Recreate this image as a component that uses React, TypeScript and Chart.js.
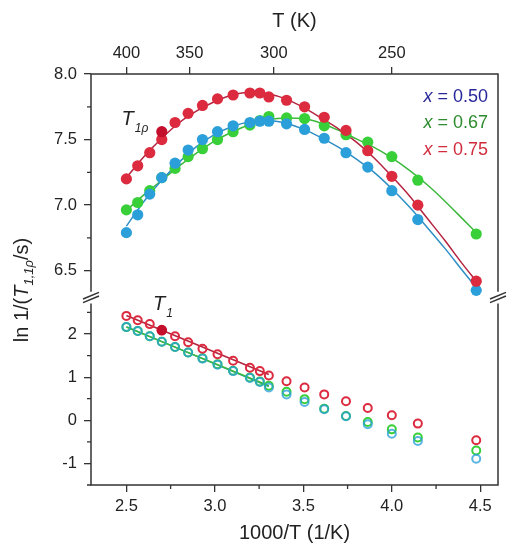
import React, { useEffect, useRef } from "react";
import { Chart, registerables } from "chart.js";

Chart.register(...registerables);

// ---------- data ----------
const X_VALUES = [2.5, 2.564, 2.632, 2.7, 2.775, 2.849, 2.93, 3.015, 3.103, 3.198, 3.254, 3.305, 3.405, 3.507, 3.618, 3.741, 3.864, 4.0, 4.147, 4.477];

const RHO_050 = [6.79, 6.926, 7.084, 7.21, 7.32, 7.42, 7.5, 7.56, 7.605, 7.63, 7.64, 7.64, 7.62, 7.577, 7.51, 7.4, 7.29, 7.11, 6.89, 6.35];
const RHO_067 = [6.964, 7.02, 7.11, 7.21, 7.28, 7.37, 7.43, 7.5, 7.56, 7.61, 7.645, 7.676, 7.665, 7.66, 7.605, 7.537, 7.48, 7.37, 7.19, 6.78];
const RHO_075 = [7.2, 7.3, 7.4, 7.5, 7.63, 7.7, 7.76, 7.81, 7.84, 7.855, 7.855, 7.825, 7.8, 7.75, 7.67, 7.57, 7.415, 7.22, 7.0, 6.42];
const RHO_075_EXTRA_X = [2.7];
const RHO_075_EXTRA = [7.56];

const T1_050 = [2.165, 2.07, 1.95, 1.82, 1.7, 1.57, 1.43, 1.29, 1.14, 0.98, 0.89, 0.76, 0.6, 0.425, 0.255, 0.093, -0.093, -0.31, -0.48, -0.89];
const T1_067 = [2.16, 2.07, 1.95, 1.82, 1.7, 1.57, 1.44, 1.3, 1.15, 0.99, 0.9, 0.8, 0.66, 0.49, 0.27, 0.1, -0.04, -0.21, -0.4, -0.7];
const T1_075 = [2.42, 2.32, 2.23, 2.09, 1.95, 1.81, 1.66, 1.53, 1.38, 1.22, 1.14, 1.04, 0.905, 0.76, 0.6, 0.44, 0.285, 0.116, -0.077, -0.464];
const T1_075_EXTRA_X = [2.7];
const T1_075_EXTRA = [2.09];

const FIT_RHO_X = [2.5, 2.6, 2.7, 2.8, 2.9, 3.0, 3.1, 3.2, 3.3, 3.4, 3.5, 3.6, 3.7, 3.8, 3.9, 4.0, 4.1, 4.2, 4.3, 4.4, 4.477];
const FIT_RHO_050 = [6.84, 7.03, 7.19, 7.33, 7.45, 7.54, 7.6, 7.635, 7.645, 7.625, 7.58, 7.515, 7.44, 7.35, 7.25, 7.125, 6.985, 6.83, 6.67, 6.5, 6.37];
const FIT_RHO_067 = [6.96, 7.08, 7.19, 7.3, 7.4, 7.49, 7.56, 7.615, 7.65, 7.665, 7.66, 7.625, 7.57, 7.505, 7.44, 7.36, 7.265, 7.155, 7.03, 6.895, 6.79];
const FIT_RHO_075 = [7.21, 7.37, 7.51, 7.63, 7.72, 7.79, 7.84, 7.86, 7.85, 7.81, 7.745, 7.665, 7.58, 7.48, 7.36, 7.22, 7.07, 6.9, 6.73, 6.55, 6.42];

const FIT_T1_X = [2.5, 3.305];
const FIT_T1_050 = [2.17, 0.78];
const FIT_T1_067 = [2.16, 0.8];
const FIT_T1_075 = [2.43, 1.06];

const X_TICKS = [2.5, 3.0, 3.5, 4.0, 4.5];
const X_MINOR = [2.75, 3.25, 3.75, 4.25];
const TOP_TICKS_K = [400, 350, 300, 250];
const Y_TOP_TICKS = [6.5, 7.0, 7.5, 8.0];
const Y_TOP_MINOR = [6.75, 7.25, 7.75];
const Y_BOT_TICKS = [-1, 0, 1, 2];
const Y_BOT_MINOR = [-1.5, -0.5, 0.5, 1.5, 2.5];
const LEGEND_VALUES = ["0.50", "0.67", "0.75"];

// ---------- styles ----------
const FONT = '"Liberation Sans", Arial, sans-serif';
const AXIS = "#333333";
const TEXT = "#222222";
const RED = "#dc2a3f";
const RED_DARK = "#c40f2c";
const BLUE = "#2b9fd9";
const BLUE_T = "rgba(41,159,217,0.78)";
const GREEN = "#38cf38";
const RED_LINE = "#b5233f";
const BLUE_LINE = "#2d8fc5";
const GREEN_LINE = "#3cb83c";
const TEAL_LINE = "#28a6a6";
const LEGEND_COLORS = ["#27279a", "#2e8b2e", "#d02c3c"];

const pts = (xs: number[], ys: number[]) => xs.map((x, i) => ({ x, y: ys[i] }));

const framePlugin = {
  id: "frame",
  afterDraw(chart: any) {
    const { ctx, chartArea: ca, scales } = chart;
    const x = scales.x;
    const yT = scales.yTop;
    const yB = scales.yBot;
    ctx.save();
    const gapTop = yT.getPixelForValue(6.34);
    const gapBot = yB.getPixelForValue(2.71);
    ctx.strokeStyle = AXIS;
    ctx.lineWidth = 1.5;
    ctx.beginPath();
    ctx.moveTo(ca.left - 0.75, ca.top);
    ctx.lineTo(ca.right + 0.75, ca.top);
    ctx.moveTo(ca.left - 0.75, ca.bottom);
    ctx.lineTo(ca.right + 0.75, ca.bottom);
    [ca.left, ca.right].forEach((px: number) => {
      ctx.moveTo(px, ca.top);
      ctx.lineTo(px, gapTop);
      ctx.moveTo(px, gapBot);
      ctx.lineTo(px, ca.bottom);
    });
    const mid = (gapTop + gapBot) / 2;
    [ca.left, ca.right].forEach((px: number) => {
      [-1.8, 1.8].forEach((d) => {
        ctx.moveTo(px - 8, mid + d + 3.3);
        ctx.lineTo(px + 8, mid + d - 3.3);
      });
    });
    ctx.stroke();

    ctx.lineWidth = 1.3;
    ctx.beginPath();
    X_MINOR.forEach((v) => {
      const p = x.getPixelForValue(v);
      ctx.moveTo(p, ca.bottom);
      ctx.lineTo(p, ca.bottom + 4);
    });
    Y_TOP_MINOR.forEach((v) => {
      const p = yT.getPixelForValue(v);
      ctx.moveTo(ca.left - 4, p);
      ctx.lineTo(ca.left, p);
    });
    Y_BOT_MINOR.forEach((v) => {
      const p = yB.getPixelForValue(v);
      ctx.moveTo(ca.left - 4, p);
      ctx.lineTo(ca.left, p);
    });
    ctx.stroke();

    // axis titles
    ctx.fillStyle = TEXT;
    ctx.textAlign = "center";
    ctx.textBaseline = "middle";
    ctx.font = `20px ${FONT}`;
    const cx = (ca.left + ca.right) / 2;
    ctx.fillText("1000/T (1/K)", cx, 533);
    ctx.fillText("T (K)", cx, 21);

    // y title (rotated, rich text)
    const segs = [
      { t: "ln 1/(", f: `20px ${FONT}`, dy: 0 },
      { t: "T", f: `italic 20px ${FONT}`, dy: 0 },
      { t: "1,1ρ", f: `italic 13px ${FONT}`, dy: 5 },
      { t: "/s)", f: `20px ${FONT}`, dy: 0 },
    ];
    ctx.save();
    ctx.translate(28, 290);
    ctx.rotate(-Math.PI / 2);
    ctx.textAlign = "left";
    ctx.textBaseline = "alphabetic";
    let total = 0;
    segs.forEach((s) => {
      ctx.font = s.f;
      total += ctx.measureText(s.t).width;
    });
    let cur = -total / 2;
    segs.forEach((s) => {
      ctx.font = s.f;
      ctx.fillText(s.t, cur, s.dy);
      cur += ctx.measureText(s.t).width;
    });
    ctx.restore();

    // in-plot labels
    ctx.textAlign = "left";
    ctx.textBaseline = "alphabetic";
    const drawLabel = (xv: number, yv: number, sc: any, main: string, sub: string) => {
      const px = x.getPixelForValue(xv);
      const py = sc.getPixelForValue(yv);
      ctx.font = `italic 20px ${FONT}`;
      ctx.fillText(main, px, py);
      const w = ctx.measureText(main).width;
      ctx.font = `italic 12px ${FONT}`;
      ctx.fillText(sub, px + w + 1, py + 7);
    };
    drawLabel(2.473, 7.61, yT, "T", "1ρ");
    drawLabel(2.65, 2.55, yB, "T", "1");

    // legend
    ctx.textAlign = "left";
    const baselines = [102, 128, 155];
    LEGEND_VALUES.forEach((v, i) => {
      ctx.fillStyle = LEGEND_COLORS[i];
      ctx.font = `italic 18px ${FONT}`;
      const a = "x";
      const b = " = " + v;
      const wa = ctx.measureText(a).width;
      ctx.font = `18px ${FONT}`;
      const wb = ctx.measureText(b).width;
      const start = ca.right - 10 - wa - wb;
      ctx.font = `italic 18px ${FONT}`;
      ctx.fillText(a, start, baselines[i]);
      ctx.font = `18px ${FONT}`;
      ctx.fillText(b, start + wa, baselines[i]);
    });
    ctx.restore();
  },
};

export default function App() {
  const ref = useRef<HTMLCanvasElement | null>(null);

  useEffect(() => {
    if (!ref.current) return;
    const filled = (label: string, xs: number[], ys: number[], color: string, r = 5.6) => ({
      label,
      data: pts(xs, ys),
      yAxisID: "yTop",
      showLine: false,
      pointRadius: r,
      pointHoverRadius: r,
      pointBackgroundColor: color,
      pointBorderColor: color,
      pointBorderWidth: 0,
      order: 1,
    });
    const open = (label: string, xs: number[], ys: number[], color: string) => ({
      label,
      data: pts(xs, ys),
      yAxisID: "yBot",
      showLine: false,
      pointRadius: 4,
      pointHoverRadius: 4,
      pointBackgroundColor: "rgba(0,0,0,0)",
      pointBorderColor: color,
      pointBorderWidth: 2,
      order: 1,
    });
    const line = (label: string, xs: number[], ys: number[], color: string, axis: string) => ({
      label,
      data: pts(xs, ys),
      yAxisID: axis,
      showLine: true,
      pointRadius: 0,
      borderColor: color,
      borderWidth: 1.5,
      cubicInterpolationMode: "monotone",
      fill: false,
      order: 5,
    });

    const tickFont = { family: FONT, size: 16.5 };
    const grid = {
      display: true,
      drawOnChartArea: false,
      drawTicks: true,
      tickLength: 7,
      tickColor: AXIS,
      color: AXIS,
      lineWidth: 1.3,
    };

    const chart = new Chart(ref.current, {
      type: "scatter",
      data: {
        datasets: [
          filled("rho extra", RHO_075_EXTRA_X, RHO_075_EXTRA, RED_DARK, 5.6),
          { ...open("t1 extra", T1_075_EXTRA_X, T1_075_EXTRA, RED_DARK), pointBackgroundColor: RED_DARK, pointRadius: 4.3 },
          filled("rho 0.75", X_VALUES, RHO_075, RED),
          filled("rho 0.50", X_VALUES, RHO_050, BLUE),
          filled("rho 0.67", X_VALUES, RHO_067, GREEN),
          open("t1 0.75", X_VALUES, T1_075, RED),
          open("t1 0.50", X_VALUES, T1_050, BLUE_T),
          open("t1 0.67", X_VALUES, T1_067, GREEN),
          line("fit rho 0.75", FIT_RHO_X, FIT_RHO_075, RED_LINE, "yTop"),
          line("fit rho 0.50", FIT_RHO_X, FIT_RHO_050, BLUE_LINE, "yTop"),
          line("fit rho 0.67", FIT_RHO_X, FIT_RHO_067, GREEN_LINE, "yTop"),
          line("fit t1 0.75", FIT_T1_X, FIT_T1_075, RED_LINE, "yBot"),
          line("fit t1 0.67", FIT_T1_X, FIT_T1_067, GREEN_LINE, "yBot"),
          line("fit t1 0.50", FIT_T1_X, FIT_T1_050, TEAL_LINE, "yBot"),
        ] as any,
      },
      options: {
        animation: false,
        responsive: false,
        layout: { padding: { left: 0, right: 30, top: 0, bottom: 0 } },
        plugins: { legend: { display: false }, tooltip: { enabled: false } },
        scales: {
          x: {
            type: "linear",
            position: "bottom",
            min: 2.3,
            max: 4.6,
            grid,
            border: { display: false },
            ticks: { font: tickFont, color: TEXT, padding: 5, maxRotation: 0, autoSkip: false, callback: (v: any) => Number(v).toFixed(1) },
            afterBuildTicks: (s: any) => { s.ticks = X_TICKS.map((value) => ({ value })); },
            afterFit: (s: any) => { s.height = 71; },
          },
          x2: {
            type: "linear",
            position: "top",
            min: 2.3,
            max: 4.6,
            grid,
            border: { display: false },
            ticks: { font: tickFont, color: TEXT, padding: 4, maxRotation: 0, autoSkip: false, callback: (v: any) => String(Math.round(1000 / Number(v))) },
            afterBuildTicks: (s: any) => { s.ticks = TOP_TICKS_K.map((t) => ({ value: 1000 / t })); },
            afterFit: (s: any) => { s.height = 74; },
          },
          yTop: {
            type: "linear",
            position: "left",
            stack: "y",
            stackWeight: 222.7,
            weight: 2,
            min: 6.3,
            max: 8.0,
            grid,
            border: { display: false },
            ticks: { font: tickFont, color: TEXT, padding: 7, autoSkip: false, callback: (v: any) => Number(v).toFixed(1) },
            afterBuildTicks: (s: any) => { s.ticks = Y_TOP_TICKS.map((value) => ({ value })); },
            afterFit: (s: any) => { s.width = 91; },
          },
          yBot: {
            type: "linear",
            position: "left",
            stack: "y",
            stackWeight: 187.9,
            weight: 1,
            min: -1.5,
            max: 2.86,
            grid,
            border: { display: false },
            ticks: { font: tickFont, color: TEXT, padding: 7, autoSkip: false, callback: (v: any) => String(Number(v)) },
            afterBuildTicks: (s: any) => { s.ticks = Y_BOT_TICKS.map((value) => ({ value })); },
            afterFit: (s: any) => { s.width = 91; },
          },
        } as any,
      },
      plugins: [framePlugin],
    });
    return () => chart.destroy();
  }, []);

  return (
    <div style={{ position: "absolute", left: 0, top: 0, width: 528, height: 556, background: "#fff" }}>
      <canvas ref={ref} width={528} height={556} style={{ width: 528, height: 556, display: "block" }} />
    </div>
  );
}
